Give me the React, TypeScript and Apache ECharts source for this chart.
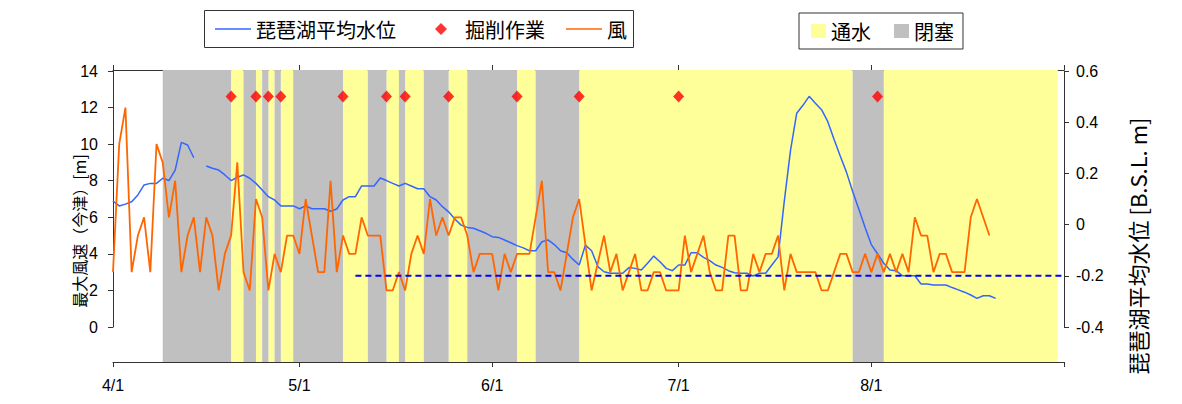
import React, { useEffect, useRef } from "react";
import * as echarts from "echarts";

// x axis: days counted from 4/1
const monthDays = [0, 30, 61, 91, 122, 153];
const monthLabels = ["4/1", "5/1", "6/1", "7/1", "8/1", ""];

// 最大風速（今津） [m], daily from 4/1
const wind = [
  3, 10, 12, 3, 5, 6, 3, 10, 9, 6,
  8, 3, 5, 6, 3, 6, 5, 2, 4, 5,
  9, 3, 2, 7, 6, 2, 4, 3, 5, 5,
  4, 7, 5, 3, 3, 8, 3, 5, 4, 4,
  6, 5, 5, 5, 2, 2, 3, 2, 4, 5,
  4, 7, 5, 6, 5, 6, 6, 5, 3, 4,
  4, 4, 2, 4, 3, 4, 4, 4, 6, 8,
  3, 3, 2, 4, 6, 7, 4.5, 2, 3.5, 5,
  3, 4, 2, 3, 4, 2, 2, 3, 3, 2,
  2, 2, 5, 3, 4, 5, 3, 2, 2, 5,
  5, 2, 2, 4, 3, 4, 4, 5, 2, 4,
  3, 3, 3, 3, 2, 2, 3, 4, 4, 3,
  3, 4, 3, 4, 3, 4, 3, 4, 3, 6,
  5, 5, 3, 4, 4, 3, 3, 3, 6, 7,
  6, 5,
];

// 琵琶湖平均水位 [B.S.L. m], daily from 4/1 (null = missing)
const waterLevel: (number | null)[] = [
  0.092, 0.073, 0.08, 0.089, 0.116, 0.155, 0.161, 0.161, 0.181, 0.172,
  0.213, 0.321, 0.311, 0.261, null, 0.229, 0.22, 0.213, 0.194, 0.172,
  0.185, 0.194, 0.181, 0.161, 0.135, 0.109, 0.096, 0.073, 0.073, 0.073,
  0.062, 0.073, 0.062, 0.062, 0.062, 0.052, 0.061, 0.096, 0.109, 0.109,
  0.151, 0.151, 0.151, 0.182, 0.172, 0.161, 0.151, 0.161, 0.151, 0.14,
  0.14, 0.109, 0.096, 0.07, 0.05, 0.022, -0.002, -0.011, -0.014, -0.024,
  -0.034, -0.047, -0.05, -0.06, -0.071, -0.082, -0.091, -0.102, -0.102, -0.067,
  -0.06, -0.078, -0.102, -0.11, -0.136, -0.158, -0.08, -0.102, -0.164, -0.184,
  -0.19, -0.19, -0.19, -0.168, -0.171, -0.177, -0.151, -0.123, -0.145, -0.171,
  -0.18, -0.158, -0.158, -0.11, -0.11, -0.128, -0.141, -0.158, -0.167, -0.18,
  -0.188, -0.19, -0.19, -0.201, -0.19, -0.19, -0.158, -0.126, 0.092, 0.29,
  0.435, 0.466, 0.501, 0.474, 0.449, 0.402, 0.333, 0.268, 0.205, 0.129,
  0.06, -0.011, -0.078, -0.114, -0.151, -0.177, -0.18, -0.2, -0.2, -0.2,
  -0.232, -0.232, -0.236, -0.236, -0.236, -0.246, -0.255, -0.264, -0.275, -0.288,
  -0.278, -0.278, -0.288,
];

// 掘削作業 days (from 4/1), plotted at this level of the right axis
const digDays = [19, 23, 25, 27, 37, 44, 47, 54, 65, 75, 91, 123];
const digLevel = 0.5;

// 通水 / 閉塞 periods [start day, end day]
const openPeriods = [
  [19, 21], [23, 24], [25, 26], [27, 29], [37, 41], [44, 46],
  [47, 50], [54, 57], [65, 68], [75, 119], [124, 152],
];
const closedPeriods = [
  [8, 19], [21, 23], [24, 25], [26, 27], [29, 37], [41, 44],
  [46, 47], [50, 54], [57, 65], [68, 75], [119, 124],
];

// reference level (dashed)
const refLevel = -0.2;
const refStartDay = 39;
const refEndDay = 153;

const FONT = '"Liberation Sans", Arial, "Noto Sans CJK JP", sans-serif';
const CJK = '"Noto Sans CJK JP", "Liberation Sans", sans-serif';

export default function App() {
  const ref = useRef<HTMLDivElement>(null);

  useEffect(() => {
    document.body.style.margin = "0";
    const chart = echarts.init(ref.current!, null, { renderer: "svg" });

    const bandSeries = (name: string, periods: number[][], color: string) => ({
      name,
      type: "custom",
      xAxisIndex: 0,
      yAxisIndex: 2,
      z: 1,
      silent: true,
      itemStyle: { color },
      encode: { x: [0, 1] },
      data: periods,
      renderItem: (params: any, api: any) => {
        const a = api.coord([api.value(0), 1]);
        const b = api.coord([api.value(1), 0]);
        return {
          type: "rect",
          shape: { x: a[0], y: a[1], width: b[0] - a[0], height: b[1] - a[1] },
          style: { fill: color },
        };
      },
    });

    const axisLineStyle = { color: "#333", width: 1 };
    const legendText = { fontSize: 20, fontFamily: CJK, color: "#000" };
    const legendBase = {
      orient: "horizontal",
      padding: 0,
      selectedMode: false,
      textStyle: legendText,
    };

    const option: any = {
      animation: false,
      backgroundColor: "#fff",
      grid: [
        { left: 113, right: 118, top: 71, bottom: 77 },
        { left: 113, right: 118, top: 70, bottom: 42 },
      ],
      xAxis: [
        {
          gridIndex: 1,
          type: "value",
          position: "bottom",
          min: 0,
          max: 153,
          axisLine: { show: true, lineStyle: axisLineStyle },
          axisTick: { show: true, length: 5, customValues: monthDays, lineStyle: axisLineStyle },
          axisLabel: {
            customValues: monthDays,
            formatter: (v: number) => monthLabels[monthDays.indexOf(v)] ?? "",
            fontSize: 16,
            fontFamily: '"Liberation Sans Narrow", "Liberation Sans", Arial, sans-serif',
            color: "#000",
            margin: 15,
          },
          splitLine: { show: false },
        },
        {
          gridIndex: 1,
          type: "value",
          position: "top",
          min: 0,
          max: 153,
          axisLine: { show: true, lineStyle: axisLineStyle },
          axisTick: { show: true, length: 5, customValues: monthDays, lineStyle: axisLineStyle },
          axisLabel: { show: false },
          splitLine: { show: false },
        },
        {
          gridIndex: 0,
          type: "value",
          min: 0,
          max: 153,
          show: false,
          splitLine: { show: false },
        },
      ],
      yAxis: [
        {
          gridIndex: 0,
          type: "value",
          position: "left",
          min: 0,
          max: 14,
          interval: 2,
          axisLine: { show: true, lineStyle: axisLineStyle },
          axisTick: { show: true, length: 5, lineStyle: axisLineStyle },
          axisLabel: { fontSize: 16, fontFamily: FONT, color: "#000", margin: 15 },
          splitLine: { show: false },
        },
        {
          gridIndex: 0,
          type: "value",
          position: "right",
          min: -0.4,
          max: 0.6,
          interval: 0.2,
          axisLine: { show: true, lineStyle: axisLineStyle },
          axisTick: { show: true, length: 5, lineStyle: axisLineStyle },
          axisLabel: {
            fontSize: 16,
            fontFamily: FONT,
            color: "#000",
            margin: 12,
            formatter: (v: number) => {
              const r = Math.round(v * 10) / 10;
              return r === 0 ? "0" : String(r);
            },
          },
          splitLine: { show: false },
        },
        {
          gridIndex: 1,
          type: "value",
          min: 0,
          max: 1,
          show: false,
          splitLine: { show: false },
        },
      ],
      legend: [
        {
          ...legendBase,
          data: [{ name: "琵琶湖平均水位", icon: "rect" }],
          left: 215,
          top: 19,
          itemWidth: 36,
          itemHeight: 1.5,
        },
        {
          ...legendBase,
          data: [{ name: "掘削作業", icon: "diamond" }],
          left: 435,
          top: 19,
          itemWidth: 12,
          itemHeight: 12,
          textStyle: { ...legendText, padding: [0, 0, 0, 13] },
        },
        {
          ...legendBase,
          data: [{ name: "風", icon: "rect" }],
          left: 566,
          top: 19,
          itemWidth: 36,
          itemHeight: 1.5,
        },
        {
          data: [
            { name: "通水", icon: "rect" },
            { name: "閉塞", icon: "rect" },
          ],
          left: 799,
          top: 13,
          orient: "horizontal",
          itemWidth: 15,
          itemHeight: 14,
          itemGap: 23,
          padding: [8, 9, 8, 12],
          borderColor: "#333",
          borderWidth: 1,
          backgroundColor: "#fff",
          textStyle: legendText,
          selectedMode: false,
        },
      ],
      graphic: [
        {
          type: "rect",
          z: -1,
          shape: { x: 204.5, y: 10.5, width: 429, height: 37 },
          style: { fill: "#fff", stroke: "#333", lineWidth: 1 },
        },
        {
          type: "text",
          x: 79,
          y: 231,
          rotation: Math.PI / 2,
          style: {
            text: "最大風速（今津）[m]",
            fontSize: 16,
            fontFamily: CJK,
            fill: "#000",
            align: "center",
            verticalAlign: "middle",
          },
        },
        {
          type: "text",
          x: 1137,
          y: 246,
          rotation: Math.PI / 2,
          style: {
            text: "琵琶湖平均水位 [B.S.L. m]",
            fontSize: 22,
            fontFamily: CJK,
            fill: "#000",
            align: "center",
            verticalAlign: "middle",
          },
        },
      ],
      series: [
        bandSeries("通水", openPeriods, "#FFFF99"),
        bandSeries("閉塞", closedPeriods, "#C0C0C0"),
        {
          name: "琵琶湖平均水位",
          type: "line",
          xAxisIndex: 2,
          yAxisIndex: 1,
          z: 3,
          symbol: "none",
          connectNulls: false,
          color: "#3366FF",
          lineStyle: { color: "#3366FF", width: 1.5 },
          data: waterLevel.map((v, i) => [i, v]),
        },
        {
          name: "風",
          type: "line",
          xAxisIndex: 2,
          yAxisIndex: 0,
          z: 3,
          symbol: "none",
          color: "#FF6600",
          lineStyle: { color: "#FF6600", width: 1.8 },
          data: wind.map((v, i) => [i, v]),
        },
        {
          name: "基準",
          type: "line",
          xAxisIndex: 2,
          yAxisIndex: 1,
          z: 4,
          symbol: "none",
          color: "#0000FF",
          lineStyle: { color: "#0000FF", width: 2, type: [6, 4] },
          data: [
            [refStartDay, refLevel],
            [refEndDay, refLevel],
          ],
        },
        {
          name: "掘削作業",
          type: "scatter",
          xAxisIndex: 2,
          yAxisIndex: 1,
          z: 5,
          symbol: "diamond",
          symbolSize: [11, 12],
          color: "#FF0000",
          itemStyle: { color: "#FF0000" },
          data: digDays.map((d) => [d, digLevel]),
        },
      ],
    };

    chart.setOption(option);
    return () => chart.dispose();
  }, []);

  return <div ref={ref} style={{ width: 1182, height: 404 }} />;
}
